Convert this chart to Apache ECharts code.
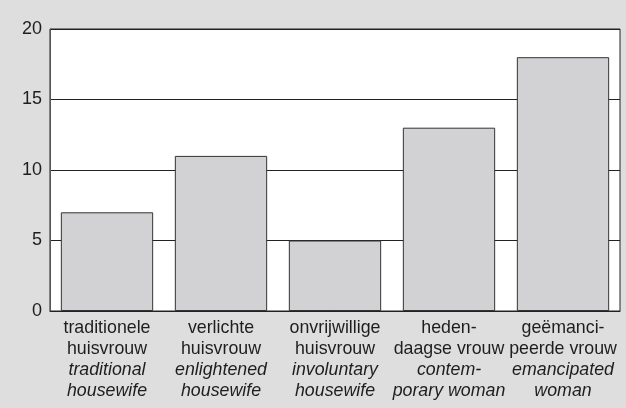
<!DOCTYPE html>
<html>
<head>
<meta charset="utf-8">
<script src="https://cdn.jsdelivr.net/npm/echarts@6/dist/echarts.min.js"></script>
<style>
html, body { margin: 0; padding: 0; background: #dedede; }
#chart { width: 626px; height: 408px; }
</style>
</head>
<body>
<div id="chart"></div>
<script>
// categorieen: Nederlands + Engels
var dutchLabels = [
	['traditionele', 'huisvrouw'],
	['verlichte', 'huisvrouw'],
	['onvrijwillige', 'huisvrouw'],
	['heden-', 'daagse vrouw'],
	['geëmanci-', 'peerde vrouw'],
]
var englishLabels = [
	['traditional', 'housewife'],
	['enlightened', 'housewife'],
	['involuntary', 'housewife'],
	['contem-', 'porary woman'],
	['emancipated', 'woman'],
]
var values = [7, 11, 5, 13, 18]
var yTicks = [0, 5, 10, 15, 20]

var categories = dutchLabels.map(function (d, i) {
	return d.map(function (s) { return '{nl|' + s + '}' })
		.concat(englishLabels[i].map(function (s) { return '{en|' + s + '}' }))
		.join('\n')
})

var chart = echarts.init(document.getElementById('chart'))
chart.setOption({
	backgroundColor: '#dedede',
	animation: false,
	grid: {
		left: 50,
		right: 6,
		top: 29,
		bottom: 97,
		show: true,
		backgroundColor: '#ffffff',
		borderColor: '#222222',
		borderWidth: 1,
	},
	xAxis: {
		type: 'category',
		data: categories,
		axisTick: { show: false },
		axisLine: { lineStyle: { color: '#222222', width: 1 } },
		axisLabel: {
			interval: 0,
			margin: 7,
			color: '#1e1e1e',
			rich: {
				nl: { fontFamily: 'Liberation Sans', fontSize: 17.8, lineHeight: 21, color: '#1e1e1e' },
				en: { fontFamily: 'Liberation Sans', fontSize: 17.8, lineHeight: 21, fontStyle: 'italic', color: '#1e1e1e' },
			},
		},
	},
	yAxis: {
		type: 'value',
		min: yTicks[0],
		max: yTicks[yTicks.length - 1],
		interval: 5,
		axisLine: { show: true, lineStyle: { color: '#555555', width: 1 } },
		axisTick: { show: true, length: 0 },
		splitLine: { lineStyle: { color: '#222222', width: 1 } },
		axisLabel: {
			margin: 8,
			fontFamily: 'Liberation Sans',
			fontSize: 18,
			color: '#1e1e1e',
		},
	},
	series: [
		{
			type: 'bar',
			data: values,
			barCategoryGap: '19%',
			itemStyle: {
				color: '#d2d2d4',
				borderColor: '#333333',
				borderWidth: 1,
			},
		},
	],
})
</script>
</body>
</html>
